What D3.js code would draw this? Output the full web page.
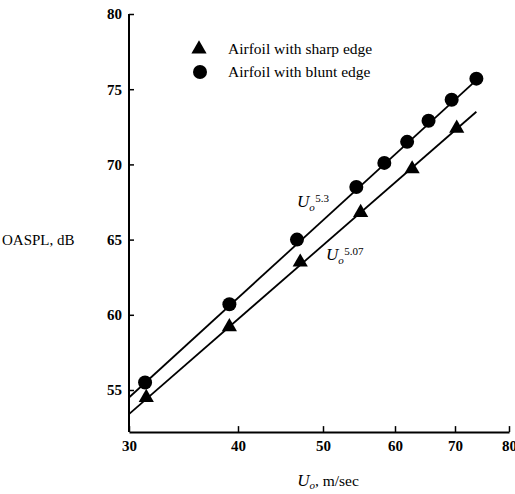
<!DOCTYPE html>
<html><head><meta charset="utf-8">
<script src="https://cdn.jsdelivr.net/npm/d3@7"></script>
<style>body{margin:0;background:#fff}svg{display:block}text{font-family:"Liberation Serif","DejaVu Serif",serif;fill:#000}</style>
</head><body><svg id="c" width="515" height="494"></svg>
<script>
const xTicks = [30, 40, 50, 60, 70, 80];
const yTicks = [55, 60, 65, 70, 75, 80];
const yMinVal = 52.2;
const bluntU  = [31.3, 39.1, 46.7, 54.4, 58.4, 61.9, 65.4, 69.4, 73.8];
const bluntDB = [55.5, 60.7, 65.0, 68.5, 70.1, 71.5, 72.9, 74.3, 75.7];
const sharpU  = [31.4, 39.1, 47.1, 55.0, 62.7, 70.3];
const sharpDB = [54.5, 59.2, 63.5, 66.8, 69.7, 72.4];
const bluntFitU = [30, 73.8], bluntFitDB = [54.5, 75.6];
const sharpFitU = [30, 73.8], sharpFitDB = [53.4, 73.5];
const legendLabels = ["Airfoil with sharp edge", "Airfoil with blunt edge"];

const svg = d3.select("#c");
const x = d3.scaleLog().domain(xTicks).range([129, 238, 323, 395, 455, 509]);
const y = d3.scaleLinear().domain([55, 80]).range([390, 14]);
const y0 = y(yMinVal);

const xAxis = d3.axisBottom(x).tickValues(xTicks).tickFormat(d3.format("d")).tickSizeInner(-6).tickSizeOuter(0).tickPadding(8);
const gx = svg.append("g").attr("transform", `translate(0,${y0})`).call(xAxis);
gx.select(".domain").attr("stroke-width", 2);
gx.selectAll(".tick line").attr("stroke-width", 1.5);
gx.selectAll(".tick text").attr("font-size", 15).attr("font-weight", "bold").attr("font-family", "Liberation Serif");

const yAxis = d3.axisLeft(y).tickValues(yTicks).tickSizeInner(-5).tickSizeOuter(0).tickPadding(7);
const gy = svg.append("g").attr("transform", `translate(${x(30)},0)`).call(yAxis);
gy.select(".domain").attr("d", `M0,${y(80)}V${y0}`).attr("stroke-width", 2);
gy.selectAll(".tick line").attr("stroke-width", 1.5);
gy.selectAll(".tick text").attr("font-size", 15).attr("font-weight", "bold").attr("font-family", "Liberation Serif");

const line = d3.line().x(d => x(d[0])).y(d => y(d[1]));
svg.append("path").datum(bluntFitU.map((u, i) => [u, bluntFitDB[i]]))
  .attr("d", line).attr("fill", "none").attr("stroke", "#000").attr("stroke-width", 1.8);
svg.append("path").datum(sharpFitU.map((u, i) => [u, sharpFitDB[i]]))
  .attr("d", line).attr("fill", "none").attr("stroke", "#000").attr("stroke-width", 1.8);

const tri = d3.symbol().type(d3.symbolTriangle).size(100);
svg.append("g").selectAll("circle").data(bluntU.map((u, i) => [u, bluntDB[i]])).join("circle")
  .attr("cx", d => x(d[0])).attr("cy", d => y(d[1])).attr("r", 7).attr("fill", "#000");
svg.append("g").selectAll("path").data(sharpU.map((u, i) => [u, sharpDB[i]])).join("path")
  .attr("d", tri).attr("transform", d => `translate(${x(d[0])},${y(d[1])})`).attr("fill", "#000");

const leg = svg.append("g");
leg.append("path").attr("d", tri).attr("transform", "translate(199,49)").attr("fill", "#000");
leg.append("circle").attr("cx", 200).attr("cy", 72).attr("r", 7).attr("fill", "#000");
leg.append("text").attr("x", 228).attr("y", 54).attr("font-size", 15.5).text(legendLabels[0]);
leg.append("text").attr("x", 228).attr("y", 77).attr("font-size", 15.5).text(legendLabels[1]);

function uLabel(px, py, exp) {
  const t = svg.append("text").attr("x", px).attr("y", py);
  t.append("tspan").attr("font-size", 17).attr("font-style", "italic").text("U");
  t.append("tspan").attr("font-size", 11).attr("font-style", "italic").attr("dy", 4).text("o");
  t.append("tspan").attr("font-size", 11).attr("dx", 0.5).attr("dy", -9).text(exp);
}
uLabel(297, 207, "5.3");
uLabel(326, 260, "5.07");

svg.append("text").attr("x", 2).attr("y", 245).attr("font-size", 15).text("OASPL, dB");
const xl = svg.append("text").attr("x", 328).attr("y", 486).attr("font-size", 15.5).attr("text-anchor", "middle");
xl.append("tspan").attr("font-style", "italic").attr("font-size", 17).text("U");
xl.append("tspan").attr("font-style", "italic").attr("font-size", 11).attr("dy", 3).text("o");
xl.append("tspan").attr("dy", -3).text(", m/sec");
</script></body></html>
